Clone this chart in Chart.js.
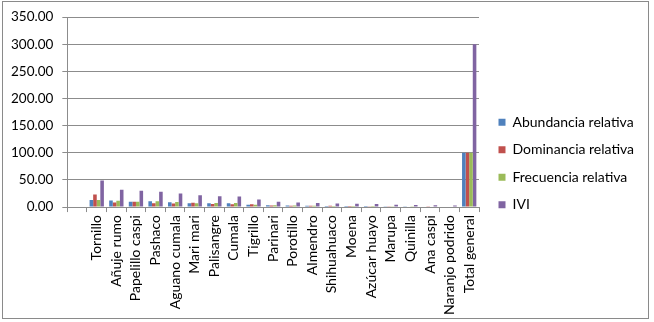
<!DOCTYPE html>
<html>
<head>
<meta charset="utf-8">
<script src="https://cdn.jsdelivr.net/npm/chart.js@4"></script>
<style>
    html, body { margin: 0; padding: 0; background: #fff; }
    #wrap { position: relative; width: 654px; height: 322px; }
    #frame { position: absolute; left: 2px; top: 1px; width: 645px; height: 316px; border: 1px solid #8a8a8a; pointer-events: none; }
</style>
</head>
<body>
<div id="wrap">
    <canvas id="chart" width="654" height="322" style="width:654px;height:322px"></canvas>
    <div id="frame"></div>
</div>
<script>
// Categories (first slot is an empty row in the source sheet)
const categories = ['', 'Tornillo', 'Añuje rumo', 'Papelillo caspi', 'Pashaco', 'Aguano cumala', 'Mari mari',
    'Palisangre', 'Cumala', 'Tigrillo', 'Parinari', 'Porotillo', 'Almendro', 'Shihuahuaco', 'Moena',
    'Azúcar huayo', 'Marupa', 'Quinilla', 'Ana caspi', 'Naranjo podrido', 'Total general'];

const abundancia = [null, 13, 12, 10, 10.5, 9, 7, 7, 7, 4.5, 3.5, 3, 2.5, 2, 2, 2, 1.5, 1.5, 1, 1, 100];
const dominancia = [null, 23, 8.5, 10, 7, 6.5, 8, 5.5, 5, 5, 3, 2.5, 2.5, 2.5, 2, 1.5, 1.5, 1, 1.5, 1, 100];
const frecuencia = [null, 13, 11.5, 10, 10.5, 9.5, 7, 7.5, 7.5, 4.5, 3.5, 3, 2.5, 2, 2, 2, 1.5, 1.5, 1, 1, 100];
const ivi = [null, 49, 32, 30, 28, 25, 22, 20, 19.5, 14, 10, 8.5, 7.5, 6.5, 6, 5.5, 4.5, 4, 3.5, 3, 300];

const yTicks = [0, 50, 100, 150, 200, 250, 300, 350];

const seriesNames = ['Abundancia relativa', 'Dominancia relativa', 'Frecuencia relativa', 'IVI'];
const seriesColors = ['#4F81BD', '#C0504D', '#9BBB59', '#8064A2'];

const fontFamily = 'Lato, "Open Sans", sans-serif';
const lineColor = '#8c8c8c';

// nudge the legend a little away from the plot, like the spreadsheet does
const legendNudge = {
    id: 'legendNudge',
    beforeInit(chart) {
        const legend = chart.legend;
        if (!legend) return;
        const origDraw = legend.draw;
        legend.draw = function() {
            this.ctx.save();
            this.ctx.translate(6, -4);
            origDraw.call(this);
            this.ctx.restore();
        };
    }
};

const ctx = document.getElementById('chart').getContext('2d');

new Chart(ctx, {
    type: 'bar',
    data: {
        labels: categories,
        datasets: [abundancia, dominancia, frecuencia, ivi].map((values, i) => ({
            label: seriesNames[i],
            data: values,
            backgroundColor: seriesColors[i],
            borderWidth: 0,
            categoryPercentage: 0.73,
            barPercentage: 1
        }))
    },
    options: {
        responsive: false,
        animation: false,
        layout: {
            padding: { left: 2, top: 17, right: 16, bottom: 4 }
        },
        plugins: {
            legend: {
                position: 'right',
                labels: {
                    boxWidth: 7,
                    boxHeight: 7,
                    padding: 13.5,
                    color: '#000',
                    font: { family: fontFamily, size: 14 }
                }
            },
            tooltip: { enabled: false }
        },
        scales: {
            x: {
                grid: {
                    offset: true,
                    drawOnChartArea: false,
                    drawTicks: true,
                    tickLength: 5,
                    color: lineColor
                },
                border: { color: lineColor },
                ticks: {
                    autoSkip: false,
                    minRotation: 90,
                    maxRotation: 90,
                    padding: 3,
                    color: '#000',
                    font: { family: fontFamily, size: 14 }
                }
            },
            y: {
                min: 0,
                max: 350,
                afterBuildTicks: axis => { axis.ticks = yTicks.map(v => ({ value: v })); },
                grid: {
                    color: lineColor,
                    tickLength: 5
                },
                border: { color: lineColor },
                ticks: {
                    padding: 9,
                    color: '#000',
                    font: { family: fontFamily, size: 13.5 },
                    callback: v => Number(v).toFixed(2)
                }
            }
        }
    },
    plugins: [legendNudge]
});
</script>
</body>
</html>
